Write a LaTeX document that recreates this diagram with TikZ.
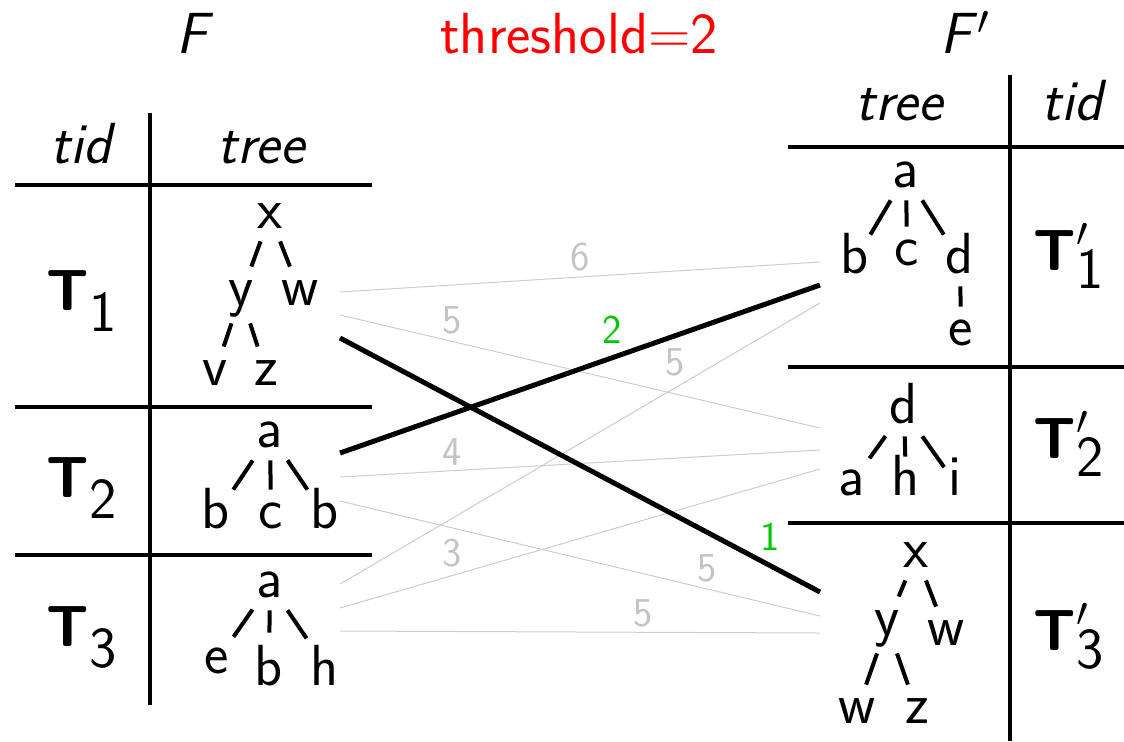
\documentclass[tikz,border=0pt]{standalone}
\usepackage{fontspec}
\renewcommand\familydefault{\sfdefault}
\definecolor{lgray}{RGB}{204,204,204}
\definecolor{lblgray}{RGB}{196,196,196}
\definecolor{mygreen}{RGB}{0,200,0}
\begin{document}
\begin{tikzpicture}[x=0.5pt,y=-0.5pt,
  font=\fontsize{29}{35}\selectfont,
  tn/.style={inner sep=2pt,text height=17pt,text depth=4.5pt,anchor=base},
  desc/.style={text depth=7pt},
  tall/.style={text height=24pt},
  tedge/.style={line width=2pt},
  rule/.style={line width=2pt},
  txt/.style={inner sep=0pt,anchor=base},
  weak/.style={lgray,line width=0.5pt},
  strong/.style={black,line width=2.5pt},
  wlbl/.style={lblgray,font=\fontsize{20.5}{24}\selectfont,inner sep=0pt},
  slbl/.style={mygreen,font=\fontsize{20.5}{24}\selectfont,inner sep=0pt}]
\useasboundingbox (0,0) rectangle (1124,741);

% titles
\node[txt] (tF) at (195,53) {\textit{F}};
\node[txt,red] (tth) at (579,53) {threshold=2};
\node[txt] (tFp) at (965,53) {\textit{F}$'$};

% left table
\draw[rule] (150,113) -- (150,705);
\draw[rule] (15,185) -- (372,185);
\draw[rule] (15,407) -- (372,407);
\draw[rule] (15,555) -- (372,555);
\node[txt] (lhtid) at (83,163) {\textit{tid}};
\node[txt] (lhtree) at (262,163) {\textit{tree}};
\node[txt] (lT1) at (82,310) {$\textbf{T}_{\textsf{1}}$};
\node[txt] (lT2) at (82,497) {$\textbf{T}_{\textsf{2}}$};
\node[txt] (lT3) at (82,646) {$\textbf{T}_{\textsf{3}}$};

% right table
\draw[rule] (1010,75) -- (1010,741);
\draw[rule] (788,147) -- (1124,147);
\draw[rule] (788,367) -- (1124,367);
\draw[rule] (788,523) -- (1124,523);
\node[txt] (rhtree) at (900,120) {\textit{tree}};
\node[txt] (rhtid) at (1074,120) {\textit{tid}};
\node[txt] (rT1) at (1069,270) {$\textbf{T}'_{\textsf{1}}$};
\node[txt] (rT2) at (1069,458) {$\textbf{T}'_{\textsf{2}}$};
\node[txt] (rT3) at (1069,650) {$\textbf{T}'_{\textsf{3}}$};

% left tree 1
\node[tn] (a1x) at (270,228) {x};
\node[tn,desc] (a1y) at (241,305) {y};
\node[tn] (a1w) at (300,305) {w};
\node[tn] (a1v) at (215,385) {v};
\node[tn] (a1z) at (266,385) {z};
\draw[tedge] (a1x) -- (a1y);
\draw[tedge] (a1x) -- (a1w);
\draw[tedge] (a1y) -- (a1v);
\draw[tedge] (a1y) -- (a1z);

% left tree 2
\node[tn] (a2a) at (270,447) {a};
\node[tn] (a2b) at (216,528) {b};
\node[tn] (a2c) at (271,528) {c};
\node[tn] (a2d) at (325,528) {b};
\draw[tedge] (a2a) -- (a2b);
\draw[tedge] (a2a) -- (a2c);
\draw[tedge] (a2a) -- (a2d);

% left tree 3
\node[tn] (a3a) at (270,597) {a};
\node[tn] (a3e) at (217,673) {e};
\node[tn,tall] (a3b) at (269,685) {b};
\node[tn,tall] (a3h) at (325,685) {h};
\draw[tedge] (a3a) -- (a3e);
\draw[tedge] (a3a) -- (a3b);
\draw[tedge] (a3a) -- (a3h);

% right tree 1
\node[tn] (b1a) at (906,187) {a};
\node[tn] (b1b) at (855,273) {b};
\node[tn] (b1c) at (907,265) {c};
\node[tn] (b1d) at (960,273) {d};
\node[tn] (b1e) at (961,345) {e};
\draw[tedge] (b1a) -- (b1b);
\draw[tedge] (b1a) -- (b1c);
\draw[tedge] (b1a) -- (b1d);
\draw[tedge] (b1d) -- (b1e);

% right tree 2
\node[tn] (b2d) at (904,423) {d};
\node[tn] (b2a) at (852,495) {a};
\node[tn] (b2h) at (906,495) {h};
\node[tn] (b2i) at (955,495) {i};
\draw[tedge] (b2d) -- (b2a);
\draw[tedge] (b2d) -- (b2h);
\draw[tedge] (b2d) -- (b2i);

% right tree 3
\node[tn] (b3x) at (916,567) {x};
\node[tn,desc] (b3y) at (887,635) {y};
\node[tn] (b3w) at (946,645) {w};
\node[tn] (b3v) at (857,723) {w};
\node[tn] (b3z) at (917,723) {z};
\draw[tedge] (b3x) -- (b3y);
\draw[tedge] (b3x) -- (b3w);
\draw[tedge] (b3y) -- (b3v);
\draw[tedge] (b3y) -- (b3z);

% ports
\coordinate (L1a) at (340,292); \coordinate (L1b) at (340,315); \coordinate (L1c) at (340,338);
\coordinate (L2a) at (340,453); \coordinate (L2b) at (340,477); \coordinate (L2c) at (340,501);
\coordinate (L3a) at (340,584); \coordinate (L3b) at (340,608); \coordinate (L3c) at (340,631);
\coordinate (R1a) at (820,262); \coordinate (R1b) at (820,285); \coordinate (R1c) at (820,303);
\coordinate (R2a) at (820,428); \coordinate (R2b) at (820,450); \coordinate (R2c) at (820,469);
\coordinate (R3a) at (820,592); \coordinate (R3b) at (820,616); \coordinate (R3c) at (820,633);

% weak connectors
\draw[weak] (L1a) -- (R1a);
\draw[weak] (L1b) -- (R2a);
\draw[weak] (L2b) -- (R2b);
\draw[weak] (L2c) -- (R3b);
\draw[weak] (L3a) -- (R1c);
\draw[weak] (L3b) -- (R2c);
\draw[weak] (L3c) -- (R3c);
% strong connectors
\draw[strong] (L1c) -- (R3a);
\draw[strong] (L2a) -- (R1b);

% labels
\node[wlbl] (w6) at (580,257) {6};
\node[wlbl] (w5a) at (452,320) {5};
\node[wlbl] (w5b) at (675,362) {5};
\node[wlbl] (w4) at (452,452) {4};
\node[wlbl] (w3) at (452,553) {3};
\node[wlbl] (w5c) at (707,568) {5};
\node[wlbl] (w5d) at (643,613) {5};
\node[slbl] (s2) at (612,330) {2};
\node[slbl] (s1) at (770,537) {1};
\end{tikzpicture}
\end{document}
